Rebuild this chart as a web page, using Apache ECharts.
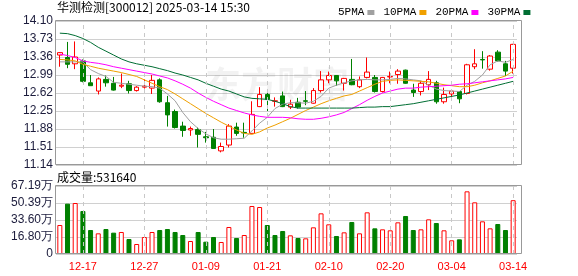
<!DOCTYPE html>
<html><head><meta charset="utf-8">
<script src="https://cdn.jsdelivr.net/npm/echarts@6/dist/echarts.min.js"></script>
<style>html,body{margin:0;padding:0;background:#fff}#c{width:578px;height:276px}</style>
</head><body><div id="c"></div>
<script>
const dates = ['12-12','12-13','12-16','12-17','12-18','12-19','12-20','12-23','12-24','12-25','12-26','12-27','12-30','12-31','01-02','01-03','01-06','01-07','01-08','01-09','01-10','01-13','01-14','01-15','01-16','01-17','01-20','01-21','01-22','01-23','01-24','01-27','02-05','02-06','02-07','02-10','02-11','02-12','02-13','02-14','02-17','02-18','02-19','02-20','02-21','02-24','02-25','02-26','02-27','02-28','03-03','03-04','03-05','03-06','03-07','03-10','03-11','03-12','03-13','03-14'];
const labelDates = ['12-17','12-27','01-09','01-21','02-10','02-20','03-04','03-14'];
const opens  = [13.40,13.35,13.22,13.28,12.83,12.66,12.90,12.82,12.76,12.81,12.67,12.74,12.72,12.89,12.42,12.24,11.94,11.86,11.87,11.72,11.71,11.43,11.55,11.92,11.81,11.79,12.34,12.59,12.45,12.56,12.33,12.43,12.46,12.41,12.67,12.89,12.98,12.82,12.90,12.75,12.94,12.94,12.65,12.95,13.00,13.09,12.68,12.65,12.79,12.83,12.44,12.60,12.65,12.61,13.16,13.31,13.11,13.46,13.22,13.13];
const closes = [13.45,13.21,13.36,12.86,12.77,12.91,12.83,12.68,12.78,12.67,12.74,12.76,12.88,12.44,12.17,11.91,11.85,11.89,11.77,11.70,11.48,11.52,11.94,11.79,11.80,12.18,12.59,12.49,12.46,12.34,12.39,12.33,12.45,12.67,12.89,12.98,12.87,12.92,12.79,12.89,13.05,12.65,12.94,12.96,13.07,12.82,12.63,12.82,12.90,12.44,12.59,12.66,12.50,13.20,13.22,13.30,13.38,13.28,13.07,13.62];
const lows   = [13.16,13.13,13.11,12.84,12.77,12.59,12.75,12.67,12.72,12.61,12.65,12.71,12.60,12.42,11.93,11.89,11.72,11.74,11.50,11.60,11.47,11.40,11.50,11.74,11.70,11.79,12.33,12.25,12.34,12.33,12.29,12.30,12.37,12.40,12.63,12.82,12.77,12.67,12.78,12.72,12.92,12.63,12.63,12.82,12.81,12.81,12.54,12.57,12.68,12.40,12.40,12.52,12.41,12.59,13.11,13.12,13.08,13.27,12.97,13.02];
const highs  = [13.46,13.67,13.68,13.31,12.99,12.94,12.98,12.95,13.02,12.87,12.76,12.90,12.99,12.92,12.56,12.28,12.03,11.93,11.91,11.82,11.88,11.60,11.98,12.01,12.01,12.45,12.74,12.66,12.53,12.65,12.48,12.52,12.66,12.72,13.07,13.06,12.99,12.93,13.32,12.96,13.35,12.99,12.95,13.06,13.11,13.10,12.81,12.87,13.07,12.87,12.73,12.70,12.66,13.22,13.52,13.48,13.40,13.50,13.28,13.63];
const volumes = [286500,497300,503900,424900,237100,204200,247000,210800,217400,148200,98800,168000,217400,237100,247000,217400,187700,128400,217400,121800,168000,118600,266800,158100,187700,474300,464400,286500,187700,227300,184400,158100,154800,263500,401800,293100,177900,214100,316200,204200,411700,253600,243700,233900,312900,375500,237100,243700,342500,306300,233900,135100,144900,619200,510500,322800,253600,296400,237100,531640];
const ma5  = [13.26,13.26,13.26,13.26,13.10,13.02,12.96,12.84,12.82,12.80,12.78,12.76,12.75,12.72,12.60,12.46,12.22,12.03,11.89,11.78,11.70,11.67,11.67,11.68,11.69,11.84,12.00,12.12,12.30,12.39,12.42,12.42,12.41,12.45,12.55,12.72,12.78,12.83,12.87,12.89,12.90,12.89,12.89,12.90,12.92,12.91,12.89,12.87,12.78,12.70,12.67,12.66,12.65,12.78,12.86,12.99,13.20,13.28,13.25,13.31];
const ma10 = [13.31,13.30,13.28,13.21,13.17,13.13,13.10,13.07,13.04,13.00,12.96,12.89,12.82,12.75,12.69,12.60,12.50,12.40,12.30,12.20,12.11,12.02,11.94,11.86,11.79,11.77,11.82,11.90,11.96,12.03,12.10,12.18,12.26,12.33,12.40,12.46,12.51,12.56,12.59,12.66,12.73,12.80,12.86,12.88,12.89,12.88,12.87,12.86,12.85,12.82,12.79,12.77,12.75,12.75,12.78,12.83,12.87,12.92,12.97,13.07];
const ma20 = [13.42,13.39,13.35,13.28,13.25,13.23,13.20,13.16,13.13,13.10,13.07,13.04,13.01,12.97,12.93,12.87,12.80,12.72,12.62,12.53,12.45,12.38,12.31,12.26,12.21,12.17,12.14,12.12,12.12,12.12,12.11,12.09,12.08,12.08,12.10,12.13,12.17,12.22,12.30,12.38,12.47,12.55,12.62,12.66,12.70,12.72,12.72,12.74,12.75,12.76,12.77,12.78,12.80,12.81,12.83,12.85,12.87,12.89,12.91,12.94];
const ma30 = [13.85,13.84,13.80,13.74,13.66,13.56,13.48,13.40,13.32,13.26,13.22,13.19,13.16,13.12,13.08,13.03,12.99,12.94,12.89,12.82,12.76,12.70,12.66,12.60,12.54,12.51,12.50,12.49,12.45,12.40,12.34,12.31,12.31,12.31,12.31,12.31,12.31,12.31,12.31,12.32,12.33,12.33,12.34,12.34,12.36,12.38,12.40,12.43,12.46,12.49,12.52,12.55,12.58,12.62,12.66,12.70,12.74,12.78,12.82,12.86];
const priceTicks = ['11.14','11.51','11.88','12.25','12.62','12.99','13.36','13.73','14.10'];
const volTicks = ['0','16.80万','33.60万','50.39万','67.19万'];
const maNames = ['5PMA','10PMA','20PMA','30PMA'];
const titleText = '华测检测[300012] 2025-03-14 15:30';
const volTitle = '成交量:531640';

const UP = '#ff0000', DOWN = '#008000';
const priceMin = 11.14, priceMax = 14.10, priceStep = 0.37;
const volMax = 671900, volStep = volMax / 4;

const kData = dates.map((d, i) => [opens[i], closes[i], lows[i], highs[i]]);
const volData = volumes.map((v, i) => {
  const up = i === 0 ? true : closes[i] >= closes[i - 1];
  return { value: v, itemStyle: up ? { color: '#fff', borderColor: UP, borderWidth: 1 } : { color: DOWN, borderColor: DOWN, borderWidth: 1 } };
});
const maColors = ['#a0a0a0', '#f0a000', '#ff00ff', '#006e33'];
const maData = [ma5, ma10, ma20, ma30];

const chart = echarts.init(document.getElementById('c'), null, { renderer: 'canvas' });
const gridL = 56, gridW = 461;
const vLines = labelDates.map(d => ({ xAxis: d }));
const option = {
  animation: false,
  backgroundColor: '#fff',
  textStyle: { fontFamily: 'Liberation Sans' },
  grid: [
    { left: gridL, top: 21, width: gridW, height: 144 },
    { left: gridL, top: 186, width: gridW, height: 68 }
  ],
  legend: {
    data: maNames.map((n, i) => ({ name: n, itemStyle: { color: maColors[i] } })),
    left: 333, top: 2, align: 'right', icon: 'rect', itemWidth: 7, itemHeight: 5, itemGap: 9,
    textStyle: { fontFamily: 'Liberation Mono', fontSize: 11, color: '#000', padding: [0, -2, 0, 0] },
    selectedMode: false
  },
  xAxis: [
    { type: 'category', gridIndex: 0, data: dates, boundaryGap: true,
      axisLine: { show: false }, axisTick: { show: false }, axisLabel: { show: false }, splitLine: { show: false } },
    { type: 'category', gridIndex: 1, data: dates, boundaryGap: true,
      axisLine: { show: false }, axisTick: { show: false }, splitLine: { show: false },
      axisLabel: { show: true, color: '#ff0000', fontSize: 11, margin: 7, fontFamily: 'Liberation Sans',
        interval: (idx, val) => labelDates.indexOf(val) >= 0 } }
  ],
  yAxis: [
    { type: 'value', gridIndex: 0, min: priceMin, max: priceMax, interval: priceStep,
      axisLine: { show: false }, axisTick: { show: false },
      splitLine: { show: true, lineStyle: { color: '#d0d0d0', width: 1 } },
      axisLabel: { margin: 3, fontSize: 12, color: '#1c1c3c', fontFamily: 'Liberation Sans',
        formatter: v => priceTicks[Math.round((v - priceMin) / priceStep)] } },
    { type: 'value', gridIndex: 1, min: 0, max: volMax, interval: volStep,
      axisLine: { show: false }, axisTick: { show: false },
      splitLine: { show: true, lineStyle: { color: '#d0d0d0', width: 1 } },
      axisLabel: { margin: 3, fontSize: 12, color: '#1c1c3c', fontFamily: 'Liberation Sans',
        formatter: v => volTicks[Math.round(v / volStep)] } }
  ],
  series: [
    { type: 'line', xAxisIndex: 0, yAxisIndex: 0, data: closes, symbol: 'none', silent: true, z: 0,
      lineStyle: { opacity: 0 },
      markLine: { silent: true, symbol: ['none', 'none'], label: { show: false },
        lineStyle: { color: '#c8c8c8', type: [4, 4], width: 1 }, data: vLines } },
    { type: 'line', xAxisIndex: 1, yAxisIndex: 1, data: volumes, symbol: 'none', silent: true, z: 0,
      lineStyle: { opacity: 0 },
      markLine: { silent: true, symbol: ['none', 'none'], label: { show: false },
        lineStyle: { color: '#c8c8c8', type: [4, 4], width: 1 }, data: vLines } },
    { type: 'candlestick', name: 'K', xAxisIndex: 0, yAxisIndex: 0, data: kData, barWidth: 5,
      itemStyle: { color: '#ffffff', color0: DOWN, borderColor: UP, borderColor0: DOWN, borderWidth: 1 }, z: 3 },
    ...maNames.map((n, i) => ({
      type: 'line', name: n, xAxisIndex: 0, yAxisIndex: 0, data: maData[i], symbol: 'none', smooth: false,
      lineStyle: { color: maColors[i], width: 1 }, itemStyle: { color: maColors[i] }, z: 4, silent: true
    })),
    { type: 'bar', name: 'VOL', xAxisIndex: 1, yAxisIndex: 1, data: volData, barWidth: 5, z: 3 }
  ],
  graphic: [
    { type: 'text', left: 57, top: 1, z: 10, style: { text: titleText, font: '12px "Noto Sans CJK SC"', fill: '#000' } },
    { type: 'text', left: 57, top: 171, z: 10, style: { text: volTitle, font: '12px "Noto Sans CJK SC"', fill: '#000' } },
    { type: 'text', left: 205, top: 66, z: 1, style: { text: '东方财富', font: 'bold 36px "Noto Sans CJK SC"', fill: 'rgba(0,0,0,0.05)' } },
    { type: 'rect', z: 9, shape: { x: 55.5, y: 20.5, width: 466, height: 144 }, style: { fill: 'none', stroke: '#999', lineWidth: 1 } },
    { type: 'rect', z: 9, shape: { x: 55.5, y: 185.5, width: 466, height: 68 }, style: { fill: 'none', stroke: '#999', lineWidth: 1 } }
  ]
};
chart.setOption(option);
</script>
</body></html>
